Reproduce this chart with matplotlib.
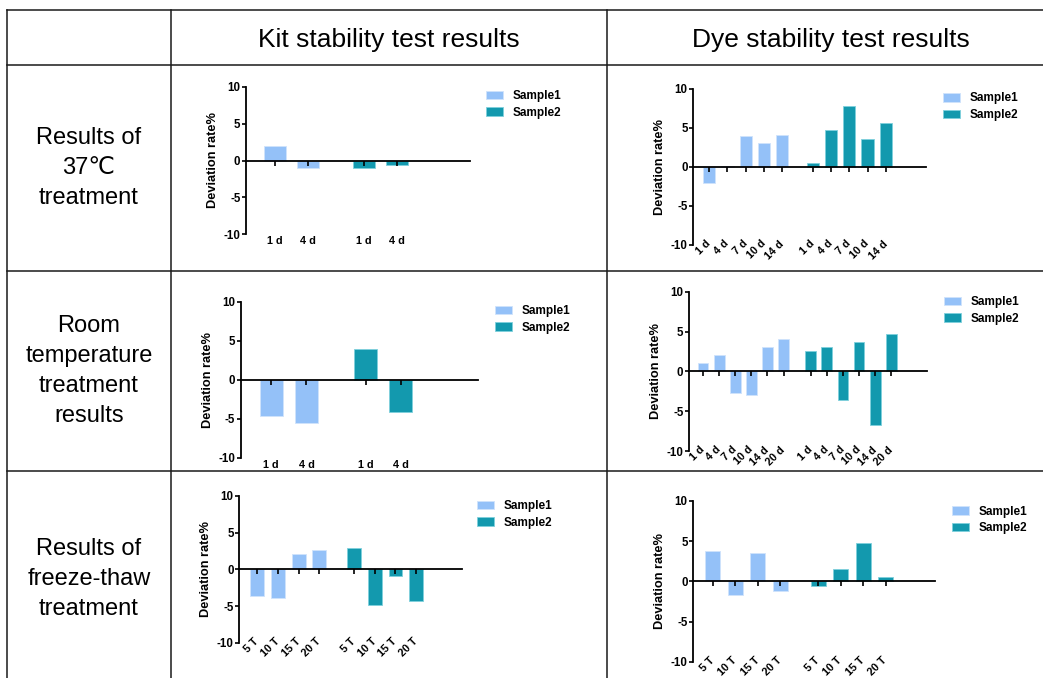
import numpy as np
import matplotlib
matplotlib.use("Agg")
import matplotlib.pyplot as plt
from matplotlib import transforms

plt.rcParams['font.family'] = ['Liberation Sans', 'DejaVu Sans']
plt.rcParams['axes.unicode_minus'] = False

W, H = 1043, 678

# row / column headings
col_titles = ['Kit stability test results', 'Dye stability test results']
row_titles = ['Results of\n37℃\ntreatment',
              'Room\ntemperature\ntreatment\nresults',
              'Results of\nfreeze-thaw\ntreatment']
series_names = ['Sample1', 'Sample2']

# x categories
kit_days = ['1 d', '4 d']
dye_days_37 = ['1 d', '4 d', '7 d', '10 d', '14 d']
dye_days_rt = ['1 d', '4 d', '7 d', '10 d', '14 d', '20 d']
ft_cycles = ['5 T', '10 T', '15 T', '20 T']

# deviation rate (%)
kit_37_s1 = [1.9, -1.0]
kit_37_s2 = [-1.0, -0.55]
dye_37_s1 = [-2.1, 0.17, 4.0, 3.05, 4.1]
dye_37_s2 = [0.55, 4.7, 7.8, 3.65, 5.7]
kit_rt_s1 = [-4.6, -5.5]
kit_rt_s2 = [3.9, -4.15]
dye_rt_s1 = [1.0, 2.05, -2.7, -3.0, 3.0, 4.1]
dye_rt_s2 = [2.55, 3.1, -3.65, 3.65, -6.75, 4.65]
kit_ft_s1 = [-3.65, -3.9, 2.15, 2.7]
kit_ft_s2 = [2.9, -4.8, -0.9, -4.35]
dye_ft_s1 = [3.75, -1.65, 3.5, -1.25]
dye_ft_s2 = [-0.55, 1.55, 4.7, 0.55]

c_s1 = '#94c1f8'
c_s2 = '#1399ae'
e_s1 = '#cfe3fb'
e_s2 = '#7fd0dc'
GAP = 0.68

fig = plt.figure(figsize=(W / 100, H / 100), dpi=100)
px = transforms.Affine2D().scale(1 / W, -1 / H).translate(0, 1) + fig.transFigure

# table grid
bg = fig.add_axes([0, 0, 1, 1])
bg.set_xlim(0, W)
bg.set_ylim(H, 0)
bg.axis('off')
line_kw = dict(color='#1a1a1a', lw=1.1)
for y in [10, 65, 271, 471]:
    bg.plot([7, W], [y, y], **line_kw)
for x in [7, 171, 607]:
    bg.plot([x, x], [10, H], **line_kw)

bg.text(389, 46.5, col_titles[0], ha='center', va='baseline', fontsize=19)
bg.text(831, 46.5, col_titles[1], ha='center', va='baseline', fontsize=19)
for yc, t in zip([168, 371, 579], row_titles):
    bg.text(89, yc, t, ha='center', va='center', fontsize=17, linespacing=1.46)


def panel(x0, x1, ytop, ybot, labels, s1, s2, rotate, leg_xy):
    ax = fig.add_axes([x0 / W, 1 - ybot / H, (x1 - x0) / W, (ybot - ytop) / H])
    n = len(labels)
    pos = np.concatenate([np.arange(n), np.arange(n) + n + GAP])
    b1 = ax.bar(pos[:n], s1, width=0.67, color=c_s1, edgecolor=e_s1, lw=0.6)
    b2 = ax.bar(pos[n:], s2, width=0.67, color=c_s2, edgecolor=e_s2, lw=0.6)
    ax.set_xlim(-0.87, pos[-1] + 2.2)
    ax.set_ylim(-10, 10)
    ax.set_yticks([-10, -5, 0, 5, 10])
    for s in ['top', 'right']:
        ax.spines[s].set_visible(False)
    ax.spines['bottom'].set_position(('data', 0))
    ax.spines['bottom'].set_linewidth(1.3)
    ax.spines['left'].set_linewidth(1.3)
    ax.set_xticks(pos)
    ax.tick_params(axis='x', length=3.5, width=1.2, labelbottom=False)
    ax.tick_params(axis='y', length=3, width=1.2, labelsize=8.3, pad=1)
    for t in ax.get_yticklabels():
        t.set_fontweight('bold')
    ax.set_ylabel('Deviation rate%', fontsize=9.2, fontweight='bold')
    ax.yaxis.set_label_coords(-27 / (x1 - x0), 0.5)

    if rotate:
        tr = transforms.offset_copy(ax.transData, fig=fig, y=3, units='dots')
        for p, lab in zip(pos, labels + labels):
            ax.text(p, -10, lab, transform=tr, rotation=45, rotation_mode='anchor',
                    ha='right', va='center', fontsize=7.8, fontweight='bold', clip_on=False)
    else:
        tr = transforms.offset_copy(ax.transData, fig=fig, y=-7, units='dots')
        for p, lab in zip(pos, labels + labels):
            ax.text(p, -10, lab, transform=tr, ha='center', va='center',
                    fontsize=7.8, fontweight='bold', clip_on=False)

    ax.legend([b1, b2], series_names, loc='upper left', bbox_to_anchor=leg_xy,
              bbox_transform=px, frameon=False, borderpad=0, borderaxespad=0,
              handlelength=1.45, handleheight=0.7, handletextpad=0.8,
              labelspacing=0.4, prop=dict(weight='bold', size=8.5))
    return ax


panel(246, 470, 86.7, 234.3, kit_days, kit_37_s1, kit_37_s2, False, (486, 90))
panel(693.3, 926, 89, 245, dye_days_37, dye_37_s1, dye_37_s2, True, (943, 92.5))
panel(240.7, 478, 301.7, 457.7, kit_days, kit_rt_s1, kit_rt_s2, False, (495, 305))
panel(689, 926.7, 291.7, 451, dye_days_rt, dye_rt_s1, dye_rt_s2, True, (944, 296))
panel(239.3, 461.7, 496, 642.7, ft_cycles, kit_ft_s1, kit_ft_s2, True, (477, 500))
panel(693.3, 935, 500.7, 662, ft_cycles, dye_ft_s1, dye_ft_s2, True, (952, 505.5))

fig.savefig('out.png', dpi=100)
